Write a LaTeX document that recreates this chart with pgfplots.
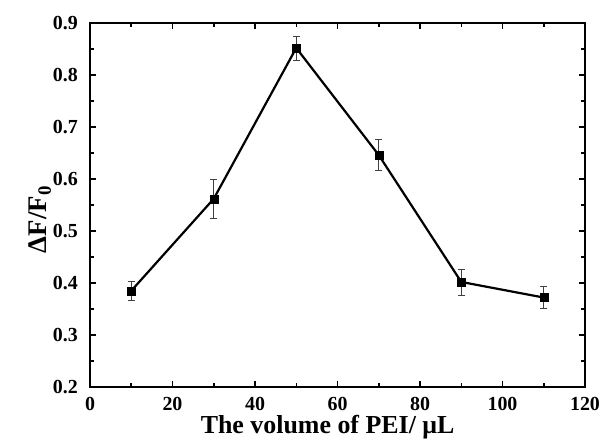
\documentclass[border=0pt]{standalone}
\usepackage{fontspec}
\setmainfont{Liberation Serif}
\usepackage{pgfplots}
\pgfplotsset{compat=1.18}

\pgfplotstableread{
x    y      e
10   0.385  0.019
30   0.562  0.038
50   0.852  0.023
70   0.646  0.030
90   0.402  0.025
110  0.372  0.021
}\pei

\begin{document}
\begin{tikzpicture}
  \begin{axis}[
    name=ax,
    scale only axis,
    width=495bp, height=364bp,
    xmin=0, xmax=120,
    ymin=0.2, ymax=0.9,
    xtick={0,20,40,60,80,100,120},
    ytick={0.2,0.3,0.4,0.5,0.6,0.7,0.8,0.9},
    minor x tick num=1,
    minor y tick num=1,
    axis line style={line width=2bp},
    major tick length=6bp,
    minor tick length=4bp,
    every tick/.style={line width=1.5bp, black},
    tick label style={font=\fontsize{20}{20}\selectfont\bfseries, inner sep=0pt},
    xticklabel style={yshift=-10bp},
    yticklabel style={xshift=-12bp},
    /pgf/number format/assume math mode=true,
    yticklabel style={/pgf/number format/.cd, fixed, fixed zerofill, precision=1},
    xlabel={The volume of PEI/ μL},
    xlabel style={font=\fontsize{26}{26}\selectfont\bfseries, inner sep=0pt,
      at={(axis description cs:0.48,-0.11)}, anchor=center},
    ylabel={ΔF/F\textsubscript{0}},
    ylabel style={font=\fontsize{27}{27}\selectfont\bfseries,
      at={(axis description cs:-0.101,0.46)}, anchor=center},
  ]
    \addplot[black, line width=2.2bp, mark=square*, mark size=4bp,
      mark options={line width=0.5bp},
      error bars/.cd, y dir=both, y explicit,
      error bar style={line width=0.8bp, black!75},
      error mark options={rotate=90, mark size=3.5bp, line width=0.8bp, black!75}]
      table[x=x, y=y, y error=e] {\pei};
  \end{axis}
  \pgfresetboundingbox
  \path ([xshift=-90bp,yshift=-54bp]ax.south west) rectangle ([xshift=21bp,yshift=23bp]ax.north east);
\end{tikzpicture}
\end{document}
